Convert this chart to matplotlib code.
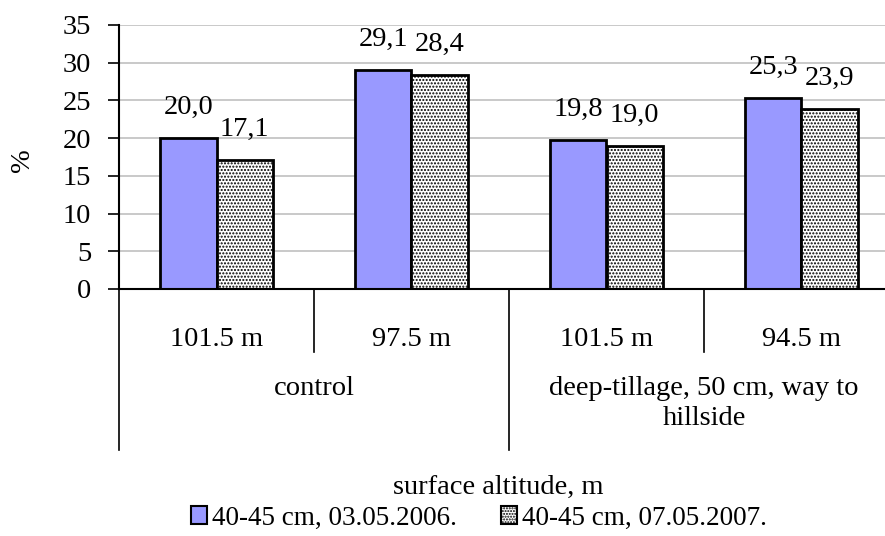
import matplotlib
matplotlib.use("Agg")
import matplotlib.pyplot as plt
from matplotlib.patches import Patch
from matplotlib.lines import Line2D
import matplotlib.transforms as mtransforms
import numpy as np

categories = ["101.5 m", "97.5 m", "101.5 m", "94.5 m"]
groups = ["control", "deep-tillage, 50 cm, way to\nhillside"]
series_names = ["40-45 cm, 03.05.2006.", "40-45 cm, 07.05.2007."]
s1 = [20.0, 29.1, 19.8, 25.3]
s2 = [17.1, 28.4, 19.0, 23.9]
yticks = [0, 5, 10, 15, 20, 25, 30, 35]

plt.rcParams['font.family'] = ['Liberation Serif', 'DejaVu Serif']
plt.rcParams['hatch.linewidth'] = 1.0
plt.rcParams['hatch.color'] = '#222222'
FS = 20.5

W, H = 885, 536
fig = plt.figure(figsize=(W/100, H/100), dpi=100)
ax_l, ax_r, ax_t, ax_b = 119, 899, 25, 289
ax = fig.add_axes([ax_l/W, 1-ax_b/H, (ax_r-ax_l)/W, (ax_b-ax_t)/H])

x = np.arange(len(categories)) + 0.5
bw = 0.29
b1 = ax.bar(x - bw/2, s1, bw, color='#9999FF', edgecolor='black', linewidth=2, zorder=3)
b2 = ax.bar(x + bw/2, s2, bw, color='white', edgecolor='black', linewidth=2, hatch='.....', zorder=3)

for bars, vals in ((b1, s1), (b2, s2)):
    for r, v in zip(bars, vals):
        ax.annotate(f"{v:.1f}".replace('.', ','), (r.get_x()+r.get_width()/2, v),
                    xytext=(0, 13), textcoords='offset points', ha='center', va='bottom',
                    fontsize=FS)

ax.set_xlim(0, 4)
ax.set_ylim(0, 35)
ax.set_yticks(yticks)
ax.set_yticklabels([str(t) for t in yticks], fontsize=FS)
ax.tick_params(axis='y', direction='out', length=8, width=1.2, pad=12)
ax.set_xticks([])
ax.yaxis.grid(True, color='#c0c0c0', linewidth=1.2, zorder=0)
ax.set_axisbelow(True)
for s in ['top', 'right']:
    ax.spines[s].set_visible(False)
ax.spines['left'].set_linewidth(1.5)
ax.spines['bottom'].set_linewidth(1.5)
ax.spines['bottom'].set_zorder(4)

# category axis separators
axh = ax_b - ax_t
trans = mtransforms.blended_transform_factory(ax.transData, ax.transAxes)
inner_y = -(352 - ax_b) / axh
outer_y = -(450 - ax_b) / axh
for xv in [0, 2, 4]:
    ax.add_line(Line2D([xv, xv], [0, outer_y], transform=trans, color='black', lw=1.2, clip_on=False))
for xv in [1, 3]:
    ax.add_line(Line2D([xv, xv], [0, inner_y], transform=trans, color='black', lw=1.2, clip_on=False))

cat_y = -(340 - ax_b) / axh
for xi, c in zip(x, categories):
    ax.text(xi, cat_y, c, transform=trans, ha='center', va='center', fontsize=FS)
grp_y = -(376 - ax_b) / axh
for gi, g in enumerate(groups):
    ax.text(1 + 2*gi, grp_y, g, transform=trans, ha='center', va='top', fontsize=FS, linespacing=1.25)

fig.text(22/W, 1-160/H, "%", rotation=90, ha='center', va='center', fontsize=FS)
fig.text(498/W, 1-487/H, "surface altitude, m", ha='center', va='center', fontsize=FS)

handles = [Patch(facecolor='#9999FF', edgecolor='black', linewidth=1.5),
           Patch(facecolor='white', edgecolor='black', linewidth=1.5, hatch='......')]
leg = fig.legend(handles, series_names, loc='center', bbox_to_anchor=(479/W, 1-518/H),
                 ncol=2, frameon=False, fontsize=19.5, handlelength=0.6, handleheight=0.6,
                 handletextpad=0.2, columnspacing=1.6, borderaxespad=0, borderpad=0)

fig.savefig("out.png", dpi=100)
